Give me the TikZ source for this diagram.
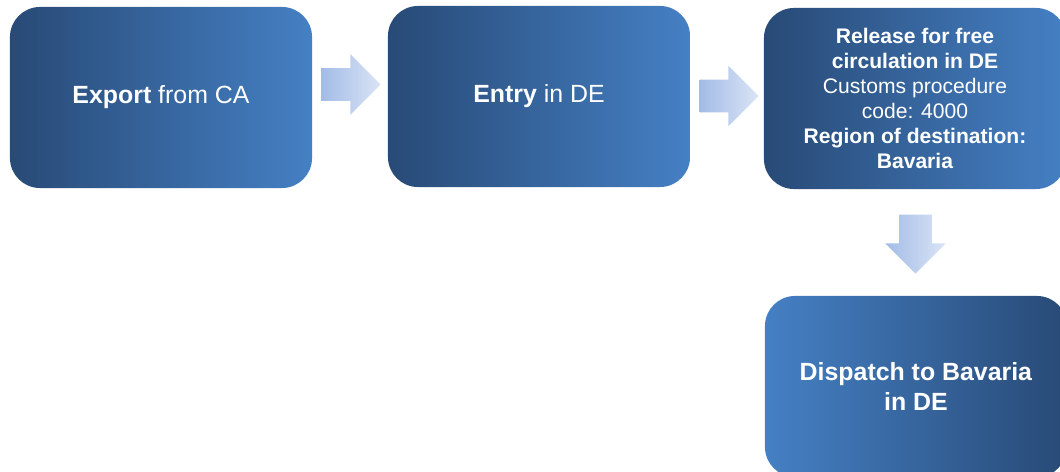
\documentclass[tikz,border=0pt]{standalone}
\usepackage{fontspec}
\setmainfont{Liberation Sans}
\usetikzlibrary{shapes.arrows,calc}

\definecolor{boxdark}{RGB}{40,74,118}
\definecolor{boxlight}{RGB}{69,128,196}
\definecolor{arrdark}{RGB}{163,188,231}
\definecolor{arrlight}{RGB}{218,228,245}

\tikzset{
  stepbox/.style={rectangle, rounded corners=0.75cm, minimum width=7.55cm,
    minimum height=4.525cm, text=white, align=center, inner sep=0pt,
    left color=boxdark, right color=boxlight},
  bigtext/.style={font=\fontsize{17.7}{21}\selectfont},
  smalltext/.style={font=\fontsize{15}{17.7}\selectfont},
  blockarrow/.style={single arrow, draw=none, inner xsep=0pt, inner ysep=0.4cm,
    minimum height=1.475cm, single arrow head extend=0.35cm,
    left color=arrdark, right color=arrlight}
}

\begin{document}
\begin{tikzpicture}[x=0.025cm, y=-0.025cm]
        \clip (0,0) rectangle (1060,472);
        
        %boxes
        \node[stepbox, bigtext] (export) at (161,97.5) {\textbf{Export} from CA};
        \node[stepbox, bigtext] (entry) at (539,96.5) {\textbf{Entry} in DE};
        \node[stepbox, smalltext] (release) at (915,98.5)
          {\textbf{Release for free}\\ \textbf{circulation in DE}\\ Customs procedure\\ code: 4000\\ \textbf{Region of destination:}\\ \textbf{Bavaria}};
        \node[stepbox, bigtext, left color=boxlight, right color=boxdark] (dispatch) at (916,386.5)
          {\textbf{Dispatch to Bavaria}\\ \textbf{in DE}};
        
        %arrows
        \node[blockarrow] (arr1)
          at ($(export.east)!0.5!(entry.west)+(-7,-12.5)$) {};
        \node[blockarrow] (arr2)
          at ($(entry.east)!0.5!(release.west)+(-6,-1.5)$) {};
        \node[blockarrow, rotate=-90] (arr3)
          at ($(release.south)!0.5!(dispatch.north)+(0,-6.5)$) {};
    \end{tikzpicture}
\end{document}
